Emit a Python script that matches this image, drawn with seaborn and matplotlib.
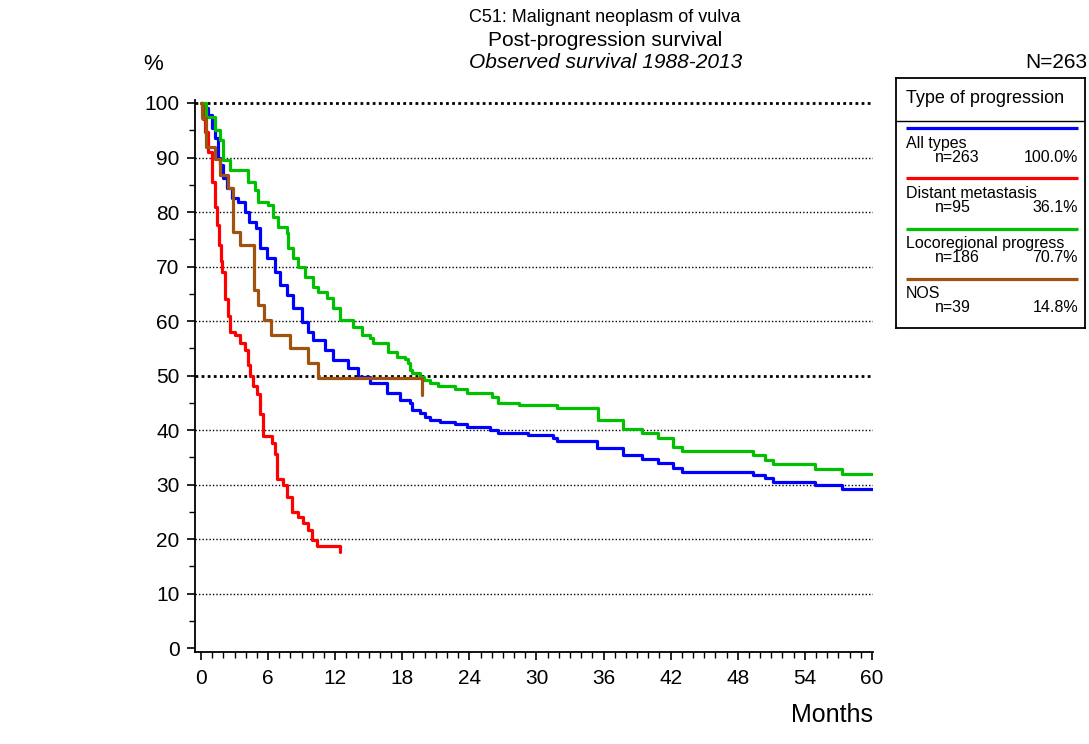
import numpy as np
import pandas as pd
import matplotlib
matplotlib.use("Agg")
import matplotlib.pyplot as plt
from matplotlib.ticker import MultipleLocator
import seaborn as sns

W, H = 1089, 744

# groups shown in the legend
groups = ["All types", "Distant metastasis", "Locoregional progress", "NOS"]
group_n = ["n=263", "n=95", "n=186", "n=39"]
group_pct = ["100.0%", "36.1%", "70.7%", "14.8%"]
colors = ["#0000ff", "#ff0000", "#00c000", "#a0520f"]

# survival curves (months, %)
all_months = [0, 0.1, 0.6, 1.0, 1.25, 1.5, 1.7, 1.97, 2.33, 2.77, 3.3, 3.9, 4.3, 4.9, 5.3,
              5.9, 6.6, 7.1, 7.7, 8.25, 9.05, 9.6, 10.0, 11.1, 11.8, 13.1, 14.0, 15.1, 16.6, 17.8,
              18.7, 18.9, 19.6, 20.0, 20.5, 21.4, 22.7, 23.8, 25.8, 26.6, 29.2, 31.5, 31.8, 35.4, 37.7,
              39.4, 40.9, 42.2, 43.0, 49.4, 50.4, 51.2, 54.9, 57.3, 60.0]
all_surv = [100, 99, 97.8, 95.4, 93.6, 90, 88.6, 86.2, 84.4, 82.6, 81.8, 80, 78.2, 77, 73.4,
            71.6, 69, 66.6, 64.8, 62.4, 59.8, 58, 56.5, 54.7, 52.8, 51.4, 49.7, 48.6, 46.8, 45.5,
            45, 43.7, 43.1, 42.4, 41.8, 41.5, 41.1, 40.6, 40, 39.4, 39.1, 38.5, 38, 36.7, 35.4,
            34.7, 34, 33, 32.3, 31.7, 31.2, 30.5, 29.9, 29.2, 29.2]

dm_months = [0, 0.15, 0.36, 0.63, 0.98, 1.25, 1.43, 1.6, 1.75, 1.9, 2.15, 2.4, 2.6, 3.0, 3.5,
             3.9, 4.2, 4.4, 4.65, 5.0, 5.3, 5.55, 6.35, 6.6, 6.8, 7.3, 7.7, 8.1, 8.7, 9.1,
             9.6, 9.9, 10.4, 12.4]
dm_surv = [100, 97, 94.6, 91, 85.5, 81, 77.6, 74, 71, 69, 64, 61, 58, 57.4, 56,
           54.7, 52, 50, 48, 46.6, 43, 38.9, 37.6, 35.6, 31, 30, 27.7, 25, 24, 23,
           21.6, 19.8, 18.7, 17.6]

lr_months = [0, 0.4, 1.25, 1.7, 2.0, 2.6, 4.2, 4.8, 5.1, 6.0, 6.4, 6.9, 7.7, 7.8, 8.25,
             8.7, 9.3, 10.0, 10.45, 11.3, 11.8, 12.4, 13.6, 14.4, 15.1, 15.4, 16.7, 17.5, 18.2, 18.5,
             18.7, 18.9, 19.6, 19.9, 20.5, 21.2, 22.7, 23.8, 26.0, 26.6, 28.4, 31.8, 35.5, 37.7, 39.4,
             40.9, 42.2, 43.0, 49.4, 50.4, 51.2, 54.9, 57.3, 60.0]
lr_surv = [100, 97.4, 95, 93.2, 89.5, 87.7, 85.5, 84, 81.8, 81.3, 79, 77.2, 76.1, 73.4, 71.6,
           70, 68, 66.2, 65.3, 64.2, 62.4, 60.2, 58.9, 57.4, 56.9, 56, 54.3, 53.4, 53, 52.3,
           51, 50.5, 49.7, 49.2, 48.6, 48.1, 47.5, 46.8, 46, 45, 44.6, 44, 41.8, 40.2, 39.4,
           38.5, 36.9, 36.1, 35.4, 34.5, 33.8, 32.8, 31.9, 31.9]

nos_months = [0, 0.1, 0.4, 1.25, 1.7, 2.4, 2.9, 3.5, 4.7, 5.1, 5.6, 6.3, 8.0, 9.6, 10.5, 19.8]
nos_surv = [100, 97.2, 92.0, 89.7, 86.8, 84.4, 76.3, 73.9, 65.7, 62.9, 60.2, 57.4, 55.0, 52.3, 49.5, 46.4]

x_ticks = list(range(0, 61, 6))
y_ticks = list(range(0, 101, 10))

curves = [(all_months, all_surv), (dm_months, dm_surv), (lr_months, lr_surv), (nos_months, nos_surv)]
df = pd.concat(
    [pd.DataFrame({"month": m, "surv": s, "group": g}) for g, (m, s) in zip(groups, curves)],
    ignore_index=True,
)

sns.set_style("ticks")
plt.rcParams["font.family"] = ["Liberation Sans", "DejaVu Sans"]
plt.rcParams["text.color"] = "black"
plt.rcParams["axes.labelcolor"] = "black"
plt.rcParams["xtick.color"] = "black"
plt.rcParams["ytick.color"] = "black"


def fx(x):
    return x / W


def fy(y):
    return 1 - y / H


fig = plt.figure(figsize=(W / 100, H / 100), dpi=100)
ax = fig.add_axes([fx(195), fy(652), (873 - 195) / W, (652 - 100) / H])

# dotted reference lines
for v in y_ticks[1:]:
    if v in (50, 100):
        ax.axhline(v, color="black", lw=2.0, ls=(0, (1, 1.2)), zorder=1)
    else:
        ax.axhline(v, color="black", lw=1.0, ls=(0, (1, 1.5)), zorder=1)

sns.lineplot(
    data=df, x="month", y="surv", hue="group", hue_order=groups,
    palette=colors, estimator=None, sort=False, drawstyle="steps-post",
    linewidth=2.3, legend=False, ax=ax, zorder=3,
)

ax.set_xlim(-0.54, 60.1)
ax.set_ylim(-0.73, 100.55)
ax.set_xticks(x_ticks)
ax.set_yticks(y_ticks)
ax.xaxis.set_minor_locator(MultipleLocator(1))
ax.yaxis.set_minor_locator(MultipleLocator(5))
ax.tick_params(axis="both", which="major", length=6, width=1.2, labelsize=15,
               color="black", labelcolor="black")
ax.tick_params(axis="both", which="minor", length=4, width=1.0, color="black")
ax.tick_params(axis="x", which="major", pad=6)
ax.tick_params(axis="y", which="major", pad=5)
ax.set_xlabel("")
ax.set_ylabel("")
sns.despine(ax=ax)
for sp in ("left", "bottom"):
    ax.spines[sp].set_linewidth(1.3)
    ax.spines[sp].set_color("black")

# titles and axis captions
fig.text(fx(605), fy(18), "C51: Malignant neoplasm of vulva", ha="center", va="center", fontsize=13)
fig.text(fx(605), fy(40), "Post-progression survival", ha="center", va="center", fontsize=15)
fig.text(fx(606), fy(62), "Observed survival 1988-2013", ha="center", va="center",
         fontsize=15, style="italic")
fig.text(fx(153), fy(65), "%", ha="center", va="center", fontsize=16)
fig.text(fx(1087), fy(62), "N=263", ha="right", va="center", fontsize=15)
fig.text(fx(873), fy(715), "Months", ha="right", va="center", fontsize=18)

# legend box drawn by hand
lg = fig.add_axes([fx(896), fy(328), (1085 - 896) / W, (328 - 78) / H])
lg.set_xlim(0, 189)
lg.set_ylim(250, 0)
lg.set_xticks([])
lg.set_yticks([])
for sp in lg.spines.values():
    sp.set_linewidth(1.3)
    sp.set_color("black")
lg.text(10, 20, "Type of progression", ha="left", va="center", fontsize=13)
lg.plot([0, 189], [43, 43], color="black", lw=1.0)
for i, (g, n, p, c) in enumerate(zip(groups, group_n, group_pct, colors)):
    y0 = 50 + i * 50.3
    lg.plot([10, 182], [y0, y0], color=c, lw=2.3, solid_capstyle="butt")
    lg.text(10, y0 + 15, g, ha="left", va="center", fontsize=11.5)
    lg.text(39, y0 + 29, n, ha="left", va="center", fontsize=11.5)
    lg.text(182, y0 + 29, p, ha="right", va="center", fontsize=11.5)

fig.savefig("out.png", dpi=100)
